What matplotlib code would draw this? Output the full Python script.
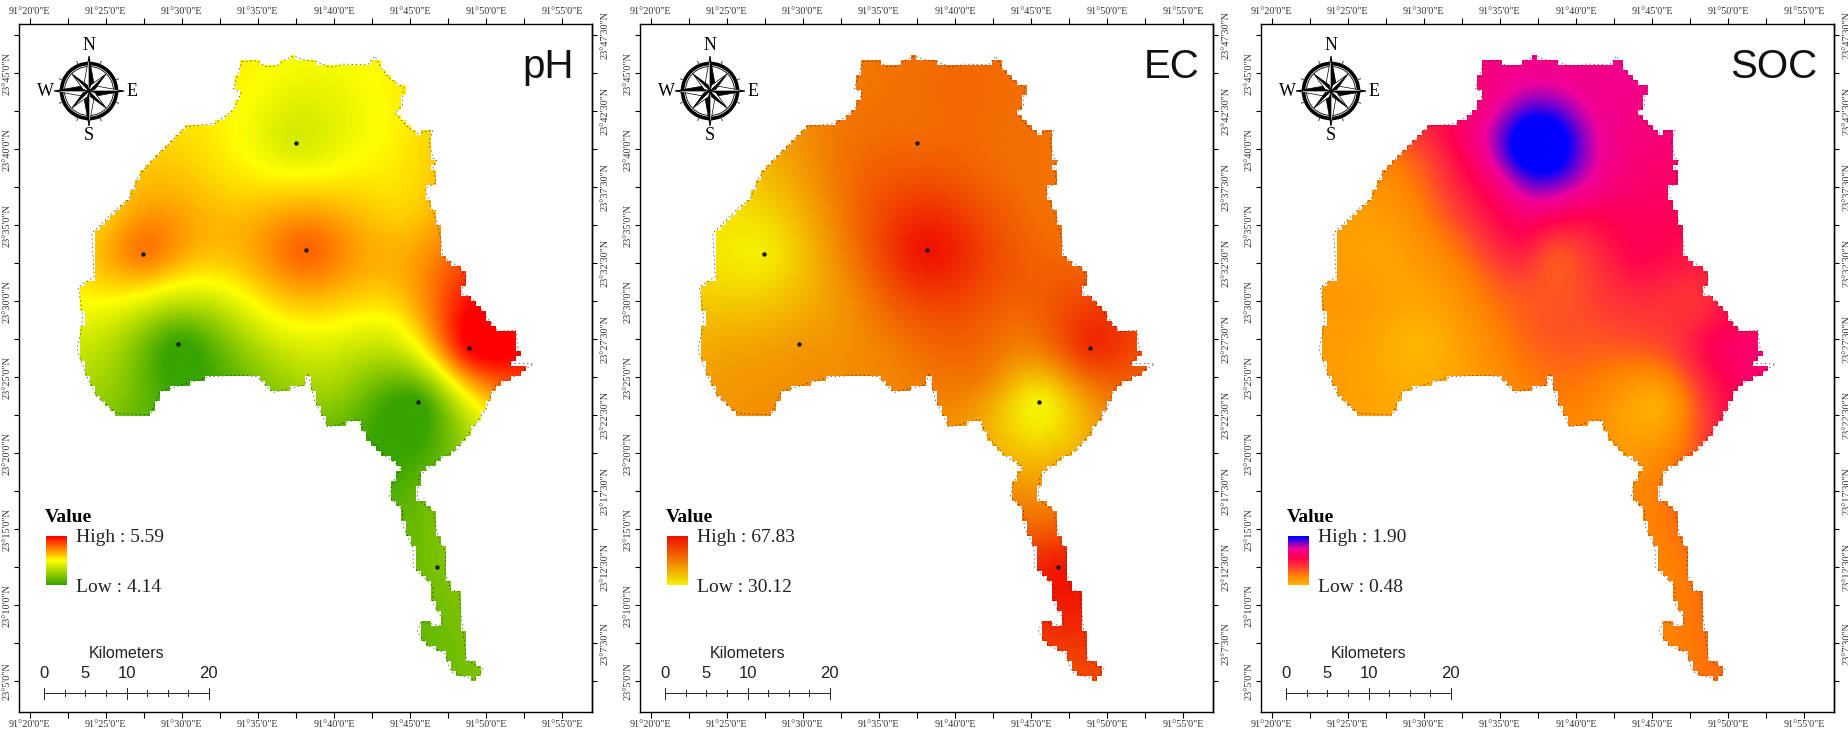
#!/usr/bin/env python
"""Three soil maps (pH, EC, SOC) over the same district outline."""
import matplotlib

matplotlib.use("Agg")
import matplotlib.pyplot as plt
import numpy as np
from matplotlib.colors import LinearSegmentedColormap, Normalize
from matplotlib.patches import Circle, Polygon
from matplotlib.path import Path

plt.rcParams["font.family"] = ["Liberation Serif", "DejaVu Serif"]

# outline, in arc minutes past 91 deg E and 23 deg N
boundary_lon = [33.96, 34.94, 35.51, 36.24, 36.76, 37.33, 38.06, 38.84, 39.75, 40.66, 42.22, 42.69, 43.13,
                43.65, 44.56, 44.51, 44.04, 44.82, 45.47, 46.51, 46.25, 46.51, 46.77, 46.51, 46.72, 45.99,
                46.38, 46.77, 47.03, 47.16, 48.20, 48.72, 48.33, 48.98, 50.02, 50.80, 51.96, 52.15, 51.57,
                53.13, 52.48, 51.83, 50.53, 50.02, 49.11, 48.07, 46.77, 45.60, 45.47, 46.51, 46.90, 47.36,
                47.29, 47.68, 48.20, 48.40, 48.72, 49.81, 49.24, 47.68, 47.29, 46.12, 45.47, 45.73, 47.03,
                47.16, 46.51, 46.51, 45.21, 45.21, 44.56, 44.51, 43.65, 43.78, 44.43, 43.39, 42.22, 41.57,
                39.62, 38.71, 38.32, 38.06, 35.98, 34.94, 33.90, 31.82, 28.58, 27.93, 25.72, 24.42, 23.72,
                23.12, 23.51, 23.20, 24.24, 24.08, 25.85, 26.50, 27.15, 27.87, 30.27, 32.21, 33.38, 33.90,
                33.38]
boundary_lat = [45.77, 45.83, 45.44, 45.48, 45.88, 46.14, 45.88, 45.77, 45.39, 45.61, 45.55, 46.14, 45.33,
                44.67, 44.08, 42.92, 42.37, 41.49, 41.05, 41.27, 40.50, 39.41, 39.30, 38.86, 37.81, 37.43,
                36.23, 35.24, 34.04, 32.94, 32.28, 31.62, 30.53, 30.31, 28.99, 28.00, 28.11, 26.58, 25.92,
                25.88, 25.48, 25.04, 24.39, 22.96, 21.64, 20.22, 19.56, 18.46, 17.04, 16.16, 14.30, 13.42,
                12.32, 11.01, 10.90, 9.04, 6.40, 5.79, 5.09, 5.64, 6.84, 7.39, 8.27, 8.93, 8.64,
                9.04, 10.13, 11.23, 12.54, 13.75, 15.18, 16.27, 17.15, 17.92, 19.12, 19.78, 20.99, 22.24,
                21.71, 23.51, 25.26, 24.50, 24.00, 25.04, 25.15, 25.04, 24.06, 22.52, 22.63, 23.73, 25.15,
                26.80, 28.77, 30.96, 31.62, 34.47, 36.23, 36.67, 38.20, 39.08, 41.49, 41.71, 42.59, 43.68,
                44.01]

station_lon = [37.49, 38.14, 27.46, 29.72, 48.90, 45.55, 46.79]
station_lat = [40.42, 33.40, 33.14, 27.19, 26.93, 23.38, 12.52]
ph_station = [4.72, 5.30, 5.24, 4.14, 5.59, 4.14, 4.38]
ec_station = [52.0, 67.0, 31.0, 44.0, 62.0, 30.12, 66.0]
soc_station = [2.08, 0.98, 0.58, 0.48, 1.26, 0.55, 0.78]

# extra values
ph_extra = [(33, 37, 5.00), (45, 36, 5.00), (44, 44, 4.90), (34.5, 44.5, 4.88), (36, 29, 4.86), (44, 28.5, 4.86),
            (24, 30, 4.87), (40, 24, 4.50), (50, 22.5, 4.86), (46.5, 17, 4.36), (48, 8, 4.36), (26, 25, 4.45),
            (25, 35.5, 5.02)]
ec_extra = [(40, 44, 52), (45, 35, 52), (32, 42, 49), (33, 30, 46), (25, 27, 42), (36, 27, 49), (42, 25, 48),
            (45.5, 18, 44), (46.3, 15.5, 52), (48, 8, 62), (47.5, 6, 58), (52, 26, 56), (49, 33, 52),
            (42, 38, 53), (33, 38, 51), (44, 29, 52)]
soc_extra = [(28, 38, 0.72), (30.5, 39.5, 1.00), (33, 37, 1.15), (37, 33.5, 1.12), (33, 33, 0.85), (41, 35, 1.20),
             (44, 33, 1.25), (46, 36, 1.30), (46, 42, 1.42), (44, 45.5, 1.50), (34.5, 45.5, 1.45),
             (38, 28, 0.90), (44, 27, 0.90), (48, 30, 1.05), (50, 22, 1.20), (40, 23, 0.75), (46, 18, 0.80),
             (48, 6, 0.80), (26, 30, 0.62), (25, 24, 0.60), (31.5, 41, 1.22),
             (37.5, 44.4, 1.55), (34.7, 43.2, 1.50), (33.5, 40.4, 1.45), (34.7, 37.6, 1.40),
             (37.5, 36.4, 1.50), (40.3, 37.6, 1.55), (41.5, 40.4, 1.55), (40.3, 43.2, 1.55)]

titles = ["pH", "EC", "SOC"]
highs = [5.59, 67.83, 1.90]
lows = [4.14, 30.12, 0.48]
high_labels = ["High : 5.59", "High : 67.83", "High : 1.90"]
low_labels = ["Low : 4.14", "Low : 30.12", "Low : 0.48"]

lon_ticks = [20, 25, 30, 35, 40, 45, 50, 55]
lon_minor = [22.5, 27.5, 32.5, 37.5, 42.5, 47.5, 52.5]
lat_ticks = [5, 10, 15, 20, 25, 30, 35, 40, 45]
lat_right = [7.5, 12.5, 17.5, 22.5, 27.5, 32.5, 37.5, 42.5, 47.5]
km_labels = [0, 5, 10, 20]

cmaps = [
    LinearSegmentedColormap.from_list("ph", [(0, "#38a400"), (0.5, "#ffff00"), (1, "#ff0000")]),
    LinearSegmentedColormap.from_list("ec", [(0, "#f6f000"), (0.6, "#f26400"), (1, "#f01000")]),
    LinearSegmentedColormap.from_list("soc", [(0, "#ffb400"), (0.2, "#ff8000"), (0.35, "#ff4030"), (0.55, "#ff0050"),
                                              (0.75, "#f0009a"), (0.98, "#0000ff"), (1, "#0000ff")]),
]

W, H = 1848, 731
PANEL_DX = 621
FRAME = (19, 24, 592.3, 711.7)
PX_PER_MIN = 15.21
CELL = 0.33  # raster cell of the source map, arc minutes


def surface(lon, lat, values, extra, gx, gy):
    # multiquadric fit through the read values
    x = np.array(list(lon) + [e[0] for e in extra], dtype=float)
    y = np.array(list(lat) + [e[1] for e in extra], dtype=float)
    z = np.array(list(values) + [e[2] for e in extra], dtype=float)
    c = 1.5
    d = np.sqrt((x[:, None] - x[None, :]) ** 2 + (y[:, None] - y[None, :]) ** 2 + c**2)
    n = len(x)
    A = np.zeros((n + 1, n + 1))
    A[:n, :n] = d
    A[:n, n] = 1
    A[n, :n] = 1
    w = np.linalg.solve(A, np.append(z, 0))
    r = np.sqrt((gx[..., None] - x) ** 2 + (gy[..., None] - y) ** 2 + c**2)
    return r @ w[:n] + w[n]


def draw_compass(ov, cx, cy):
    for ang, r, hw in [(a, 35, 7.5) for a in (0, 90, 180, 270)] + [(a, 24, 6.0) for a in (45, 135, 225, 315)]:
        t = np.deg2rad(ang)
        tip = (cx + r * np.sin(t), cy - r * np.cos(t))
        for side, col in [(1, "black"), (-1, "white")]:
            s = t + side * np.deg2rad(45 if r == 35 else 30)
            base = (cx + hw * np.sin(s), cy - hw * np.cos(s))
            ov.add_patch(Polygon([(cx, cy), tip, base], closed=True, fc=col, ec="black", lw=0.5, zorder=5))
    ov.add_patch(Circle((cx, cy), 27.5, fc="none", ec="black", lw=2.6, zorder=4))
    ov.add_patch(Circle((cx, cy), 24.5, fc="none", ec="black", lw=0.6, zorder=4))
    for a in np.deg2rad(np.arange(22.5, 360, 45)):
        ov.plot([cx + 29 * np.sin(a), cx + 32 * np.sin(a)], [cy - 29 * np.cos(a), cy - 32 * np.cos(a)],
                color="#444444", lw=0.7, zorder=4)
    for label, dx, dy in [("N", 0, -45), ("S", 0, 45), ("W", -44, 0), ("E", 43, 1)]:
        ov.text(cx + dx, cy + dy, label, fontsize=13, ha="center", va="center", color="black")


def draw_legend(ov, dx, k):
    ov.text(dx + 45, 517, "Value", fontsize=14, fontweight="bold", ha="left", va="center")
    grad = np.linspace(1, 0, 100).reshape(-1, 1)
    ov.imshow(grad, extent=[dx + 45.5, dx + 66, 585, 536], cmap=cmaps[k], vmin=0, vmax=1, aspect="auto", zorder=3)
    ov.text(dx + 76, 537, high_labels[k], fontsize=14, ha="left", va="center", color="#222222")
    ov.text(dx + 76, 587, low_labels[k], fontsize=14, ha="left", va="center", color="#222222")


def draw_scale(ov, dx):
    x0, x20 = dx + 44.3, dx + 208.8
    ov.text(dx + 126.5, 654, "Kilometers", fontsize=11.5, family="Liberation Sans", ha="center", va="center",
            color="#222222")
    for km in km_labels:
        ov.text(x0 + (x20 - x0) * km / 20, 674, str(km), fontsize=12, family="Liberation Sans", ha="center",
                va="center", color="#222222")
    ov.plot([x0, x20], [693, 693], color="#222222", lw=0.7)
    for i in range(9):
        xt = x0 + (x20 - x0) * i / 8
        half = 5.5 if i % 4 == 0 else 3
        ov.plot([xt, xt], [693 - half, 693 + half], color="#222222", lw=0.7)


lon0 = 20 + (FRAME[0] - 29.7) / PX_PER_MIN
lon1 = 20 + (FRAME[2] - 29.7) / PX_PER_MIN
lat1 = 45 + (73.3 - FRAME[1]) / 15.2
lat0 = 45 - (FRAME[3] - 73.3) / 15.2

gx, gy = np.meshgrid(np.linspace(lon0, lon1, 573), np.linspace(lat0, lat1, 688))
outline = np.column_stack([boundary_lon + boundary_lon[:1], boundary_lat + boundary_lat[:1]])

# blocky mask: the maps are rasters, so the edge steps at cell size
cell_x = np.floor((gx - lon0) / CELL) * CELL + lon0 + CELL / 2
cell_y = np.floor((gy - lat0) / CELL) * CELL + lat0 + CELL / 2
inside = Path(outline).contains_points(np.column_stack([cell_x.ravel(), cell_y.ravel()])).reshape(gx.shape)

fig = plt.figure(figsize=(W / 100, H / 100), dpi=100, facecolor="white")
panel_values = [ph_station, ec_station, soc_station]
panel_extra = [ph_extra, ec_extra, soc_extra]

for k in range(3):
    dx = k * PANEL_DX
    ax = fig.add_axes([(FRAME[0] + dx) / W, 1 - FRAME[3] / H, (FRAME[2] - FRAME[0]) / W, (FRAME[3] - FRAME[1]) / H])
    field = surface(station_lon, station_lat, panel_values[k], panel_extra[k], gx, gy)
    ax.imshow(np.ma.masked_where(~inside, field), extent=[lon0, lon1, lat0, lat1], origin="lower", aspect="auto",
              cmap=cmaps[k], norm=Normalize(lows[k], highs[k]), interpolation="nearest")
    ax.plot(outline[:, 0], outline[:, 1], color="black", lw=0.5, ls=(0, (2, 4)), alpha=0.8)
    if k < 2:
        ax.plot(station_lon, station_lat, "o", color="#1a1a1a", ms=3.2, mew=0)

    ax.set_xlim(lon0, lon1)
    ax.set_ylim(lat0, lat1)
    ax.set_xticks(lon_ticks, labels=[f"91°{m}'0\"E" for m in lon_ticks])
    ax.set_xticks(lon_minor, minor=True)
    ax.set_yticks(lat_ticks, labels=[f"23°{m}'0\"N" for m in lat_ticks])
    ax.tick_params(axis="x", which="both", top=True, labeltop=True, length=4.0, width=0.8, labelsize=7.3, pad=2,
                   labelcolor="#333333")
    ax.tick_params(axis="y", which="both", length=3.6, width=0.8, labelsize=7.3, pad=2, labelcolor="#333333")
    ax.set_yticks(lat_right, minor=True)
    plt.setp(ax.get_yticklabels(), rotation=90, va="center")
    sec = ax.secondary_yaxis("right")
    sec.set_yticks(lat_right, labels=[f"23°{int(m)}'30\"N" for m in lat_right])
    sec.set_yticks(lat_ticks, minor=True)
    sec.tick_params(axis="y", which="both", length=3.6, width=0.8, labelsize=7.3, pad=2, labelcolor="#333333")
    plt.setp(sec.get_yticklabels(), rotation=90, va="center")
    for spine in ax.spines.values():
        spine.set_linewidth(1.0)
    sec.spines["right"].set_linewidth(1.0)

ov = fig.add_axes([0, 0, 1, 1], zorder=10)
ov.patch.set_alpha(0)
for k in range(3):
    dx = k * PANEL_DX
    draw_compass(ov, 89 + dx, 91)
    draw_legend(ov, dx, k)
    draw_scale(ov, dx)
    title_right = [574, 579, 575][k]
    ov.text(title_right + dx, 78, titles[k], fontsize=29, family="Liberation Sans", ha="right", va="baseline",
            color="#111111")
ov.set_xlim(0, W)
ov.set_ylim(H, 0)
ov.axis("off")

fig.savefig("out.png", dpi=100)
plt.close(fig)
